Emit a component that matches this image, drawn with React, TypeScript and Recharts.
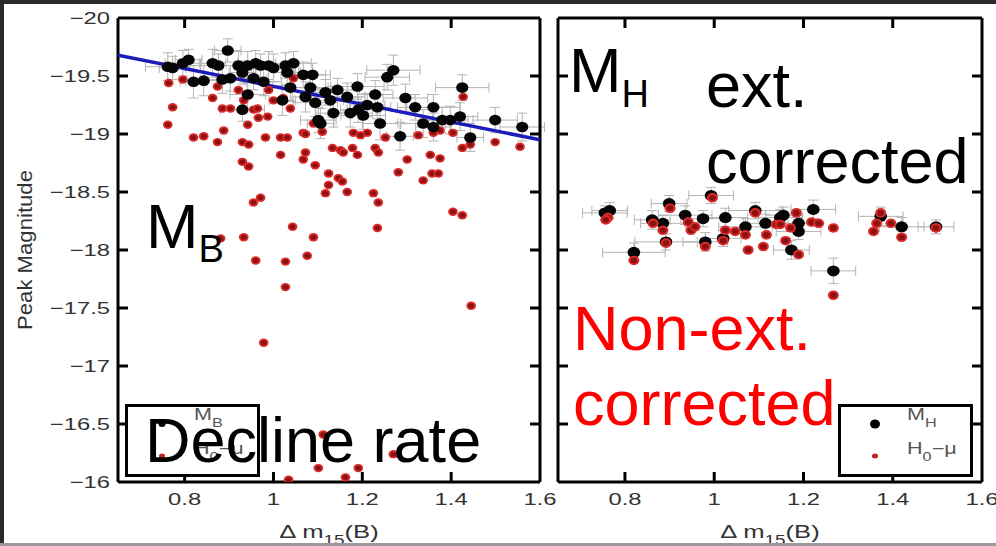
import React from 'react';
import { ScatterChart, Scatter, XAxis, YAxis, ErrorBar, Legend } from 'recharts';

const FONT = '"Liberation Sans", Arial, Helvetica, sans-serif';

// x ticks (decline rate) and y ticks (peak magnitude)
const xTicks = [0.8, 1, 1.2, 1.4, 1.6];
const yTicks = [-20, -19.5, -19, -18.5, -18, -17.5, -17, -16.5, -16];

// left panel, M_B : [dm15, mag, xerr, yerr]
const leftMB: number[][] = [
  [0.762, -19.58, 0.05, 0.12], [0.773, -19.57, 0.03, 0.1], [0.796, -19.61, 0.04, 0.11],
  [0.809, -19.64, 0.03, 0.09], [0.82, -19.45, 0.03, 0.14], [0.843, -19.46, 0.04, 0.13],
  [0.863, -19.61, 0.03, 0.12], [0.876, -19.59, 0.04, 0.1], [0.897, -19.72, 0.03, 0.1],
  [0.885, -19.47, 0.05, 0.12], [0.903, -19.48, 0.03, 0.11], [0.921, -19.59, 0.04, 0.12],
  [0.93, -19.53, 0.03, 0.1], [0.942, -19.59, 0.03, 0.12], [0.96, -19.61, 0.04, 0.11],
  [0.971, -19.59, 0.03, 0.1], [0.989, -19.59, 0.04, 0.12], [1.0, -19.57, 0.05, 0.12],
  [0.942, -19.34, 0.04, 0.12], [0.93, -19.21, 0.05, 0.1], [0.955, -19.48, 0.03, 0.1],
  [0.978, -19.45, 0.04, 0.12], [1.027, -19.59, 0.03, 0.11], [1.045, -19.61, 0.04, 0.1],
  [1.031, -19.53, 0.03, 0.1], [1.038, -19.4, 0.04, 0.12], [1.02, -19.29, 0.03, 0.13],
  [1.067, -19.51, 0.05, 0.11], [1.088, -19.51, 0.04, 0.1], [1.083, -19.4, 0.04, 0.12],
  [1.072, -19.32, 0.03, 0.13], [1.094, -19.27, 0.05, 0.12], [1.117, -19.36, 0.04, 0.11],
  [1.144, -19.38, 0.05, 0.1], [1.128, -19.29, 0.03, 0.12], [1.166, -19.32, 0.04, 0.12],
  [1.189, -19.41, 0.06, 0.11], [1.135, -19.18, 0.04, 0.12], [1.106, -19.09, 0.03, 0.13],
  [1.173, -19.18, 0.05, 0.12], [1.191, -19.21, 0.04, 0.11], [1.202, -19.16, 0.05, 0.12],
  [1.229, -19.34, 0.04, 0.12], [1.234, -19.23, 0.03, 0.1], [1.256, -19.49, 0.05, 0.11],
  [1.27, -19.55, 0.06, 0.13], [1.24, -19.09, 0.04, 0.14], [1.285, -18.98, 0.03, 0.12],
  [1.297, -19.31, 0.05, 0.12], [1.319, -19.23, 0.04, 0.11], [1.337, -19.09, 0.05, 0.12],
  [1.36, -19.23, 0.06, 0.11], [1.36, -19.06, 0.04, 0.12], [1.38, -19.12, 0.05, 0.11],
  [1.398, -19.12, 0.04, 0.12], [1.425, -19.4, 0.06, 0.11], [1.42, -19.15, 0.04, 0.12],
  [1.443, -18.97, 0.03, 0.12], [1.499, -19.12, 0.05, 0.11], [1.56, -19.06, 0.05, 0.12],
  [1.101, -19.12, 0.04, 0.11], [1.211, -19.25, 0.04, 0.1],
];

// left panel, H0 - mu : [dm15, mag]
const leftH0: number[][] = [
  [0.764, -19.44], [0.773, -19.23], [0.762, -19.08], [0.796, -19.47], [0.82, -18.97],
  [0.843, -18.98], [0.874, -18.93], [0.863, -19.31], [0.885, -19.22], [0.903, -19.22],
  [0.888, -19.03], [0.874, -19.41], [0.921, -19.38], [0.933, -19.29], [0.955, -19.21],
  [0.942, -19.08], [0.966, -19.14], [0.987, -19.15], [0.93, -18.93], [0.944, -18.91],
  [0.982, -18.97], [1.016, -18.97], [1.031, -18.97], [1.016, -18.82], [0.93, -18.76],
  [0.944, -18.72], [0.964, -19.22], [1.0, -19.29], [0.989, -19.38], [1.022, -19.31],
  [1.045, -19.48], [1.038, -19.22], [1.067, -19.01], [1.072, -18.84], [1.067, -18.78],
  [1.094, -18.73], [1.09, -19.09], [1.11, -19.02], [1.124, -18.66], [1.124, -18.56],
  [1.117, -18.49], [1.146, -18.62], [1.155, -18.59], [1.166, -18.5], [1.133, -18.88],
  [1.151, -18.86], [1.157, -18.84], [1.178, -18.88], [1.189, -18.82], [1.18, -19.01],
  [1.196, -18.99], [1.211, -19.01], [1.229, -18.88], [1.236, -18.84], [1.225, -18.49],
  [1.236, -18.41], [1.234, -18.19], [1.252, -18.97], [1.281, -18.67], [1.301, -18.78],
  [1.326, -18.99], [1.337, -18.6], [1.357, -18.66], [1.371, -18.66], [1.353, -18.82],
  [1.375, -18.79], [1.404, -18.33], [1.425, -18.3], [1.425, -18.88], [1.443, -18.91],
  [1.427, -19.32], [1.499, -18.93], [1.36, -19.01], [1.375, -19.03], [1.404, -19.01],
  [1.555, -18.89], [1.072, -19.0], [0.955, -18.41], [0.971, -18.45], [1.043, -18.2],
  [1.027, -17.9], [0.933, -18.11], [0.881, -18.1], [0.96, -17.91], [1.076, -17.95],
  [1.09, -18.11], [1.027, -17.68], [0.978, -17.2], [1.445, -17.52], [1.112, -16.41],
  [1.101, -16.12], [1.162, -16.04], [1.191, -16.12], [1.27, -16.24], [1.034, -16.02],
];

// linear fit through M_B
const fitLine = [
  { x: 0.65, y: -19.68 },
  { x: 1.6, y: -18.95 },
];

// right panel, M_H : [dm15, mag, xerr, yerr]
const rightMH: number[][] = [
  [0.766, -18.34, 0.04, 0.07], [0.755, -18.32, 0.05, 0.06], [0.899, -18.4, 0.04, 0.07],
  [0.993, -18.47, 0.05, 0.07], [0.861, -18.26, 0.04, 0.08], [0.885, -18.23, 0.05, 0.07],
  [0.935, -18.3, 0.06, 0.08], [0.975, -18.27, 0.05, 0.07], [1.025, -18.28, 0.05, 0.08],
  [1.092, -18.34, 0.06, 0.07], [1.115, -18.23, 0.05, 0.08], [1.07, -18.2, 0.06, 0.07],
  [0.892, -18.07, 0.07, 0.07], [0.98, -18.07, 0.05, 0.08], [1.02, -18.1, 0.04, 0.07],
  [0.82, -17.98, 0.07, 0.08], [1.148, -18.28, 0.05, 0.07], [1.155, -18.3, 0.04, 0.07],
  [1.222, -18.35, 0.05, 0.08], [1.189, -18.23, 0.04, 0.07], [1.189, -18.16, 0.05, 0.07],
  [1.173, -18.0, 0.04, 0.08], [1.42, -18.2, 0.05, 0.08], [1.267, -17.82, 0.05, 0.11],
  [1.373, -18.29, 0.05, 0.08], [1.497, -18.2, 0.04, 0.06],
];

// right panel, H0 - mu : [dm15, mag]
const rightH0: number[][] = [
  [0.762, -18.28], [0.757, -18.26], [0.901, -18.36], [0.996, -18.45], [0.863, -18.23],
  [0.885, -18.17], [0.942, -18.24], [0.948, -18.17], [0.957, -18.2], [1.025, -18.17],
  [1.047, -18.16], [1.07, -18.13], [1.092, -18.32], [1.117, -18.13], [1.076, -18.0],
  [1.11, -18.03], [0.98, -18.03], [1.02, -18.08], [0.892, -18.06], [0.82, -17.91],
  [1.139, -18.22], [1.184, -18.32], [1.218, -18.24], [1.234, -18.23], [1.267, -18.19],
  [1.171, -18.19], [1.16, -18.08], [1.189, -17.96], [1.267, -17.61], [1.373, -18.32],
  [1.364, -18.23], [1.396, -18.23], [1.357, -18.16], [1.42, -18.11], [1.497, -18.19],
  [1.148, -18.22],
];

const withErr = (rows: number[][]) => rows.map(([x, y, ex, ey]) => ({ x, y, ex, ey }));
const plain = (rows: number[][]) => rows.map(([x, y]) => ({ x, y }));

const minus = (v: number) => String(v).replace('-', '\u2212');

const blackDot = (r: number) => (p: any) => (
  <ellipse cx={p.cx} cy={p.cy} rx={r * 1.15} ry={r} fill="#050505" />
);

const redDot = (r: number) => (p: any) => (
  <g>
    <ellipse cx={p.cx} cy={p.cy} rx={r * 1.15} ry={r} fill="#dc2a2a" />
    <ellipse cx={p.cx} cy={p.cy} rx={r * 0.7} ry={r * 0.6} fill="#8c1212" />
  </g>
);

// empty tick label so that only the inward tick line is drawn
const noTick = () => <g />;

function XTick(props: any) {
  const { x, y, payload } = props;
  return (
    <text transform={`translate(${x},${y}) scale(1.4,1)`} textAnchor="middle" dy="0.71em"
      fontSize={17} fill="#333" fontFamily={FONT}>
      {payload.value}
    </text>
  );
}

function YTick(props: any) {
  const { x, y, payload } = props;
  return (
    <text transform={`translate(${x},${y}) scale(1.4,1)`} textAnchor="end" dy="0.355em"
      fontSize={17} fill="#333" fontFamily={FONT}>
      {minus(payload.value)}
    </text>
  );
}

function XTitle(props: any) {
  const vb = props.viewBox || { x: 0, y: 0, width: 0 };
  return (
    <text transform={`translate(${vb.x + vb.width / 2},${vb.y + 56}) scale(1.35,1)`} textAnchor="middle"
      fontSize={19} fill="#333" fontFamily={FONT}>
      {'\u0394 m'}
      <tspan dy={7} fontSize={14}>15</tspan>
      <tspan dy={-7}>(B)</tspan>
    </text>
  );
}

function YTitle(props: any) {
  const vb = props.viewBox || { y: 0, height: 0 };
  return (
    <text transform={`translate(32,${vb.y + vb.height / 2}) rotate(-90)`} textAnchor="middle"
      fontSize={21} fill="#333" fontFamily={FONT} textLength={160} lengthAdjust="spacingAndGlyphs">
      Peak Magnitude
    </text>
  );
}

function LegendBox({ sub, big }: { sub: string; big: boolean }) {
  return (
    <svg width={135} height={73} style={{ display: 'block' }}>
      <rect x={1.5} y={1.5} width={132} height={70} fill="#fff" stroke="#000" strokeWidth={3} />
      <ellipse cx={37} cy={20} rx={big ? 5 : 3.5} ry={big ? 4.5 : 3} fill="#000" />
      <text transform="translate(69,16) scale(1.35,1)" fontSize={16} fill="#555" fontFamily={FONT}>
        M<tspan dy={7} fontSize={12}>{sub}</tspan>
      </text>
      <ellipse cx={37} cy={52} rx={3} ry={2.5} fill="#c42020" />
      <text transform="translate(69,50) scale(1.35,1)" fontSize={16} fill="#555" fontFamily={FONT}>
        H<tspan dy={7} fontSize={12}>0</tspan>
        <tspan dy={-7}>{'\u2212\u03bc'}</tspan>
      </text>
    </svg>
  );
}

const boxLine = { stroke: '#000', strokeWidth: 3 };

function Panel({ left }: { left: boolean }) {
  const W = left ? 575 : 448;
  const margin = left ? { top: 18, right: 35, bottom: 0, left: 0 } : { top: 18, right: 14, bottom: 0, left: 10 };
  const black = withErr(left ? leftMB : rightMH);
  const red = plain(left ? leftH0 : rightH0);
  const rb = left ? 5.3 : 5.5;
  const rr = left ? 4.2 : 4.8;
  return (
    <ScatterChart width={W} height={546} margin={margin}>
      <XAxis xAxisId="xin" type="number" dataKey="x" domain={[0.65, 1.6]} ticks={xTicks.slice(0, 4)}
        allowDataOverflow mirror height={1} axisLine={false} tick={noTick} tickLine={boxLine} tickSize={10} />
      <XAxis xAxisId="x" type="number" dataKey="x" domain={[0.65, 1.6]} ticks={xTicks} allowDataOverflow
        height={64} axisLine={boxLine} tickLine={false} tickSize={5} tickMargin={6} tick={<XTick />}
        label={{ content: (p: any) => <XTitle {...p} /> }} />
      <XAxis xAxisId="xtop" orientation="top" type="number" dataKey="x" domain={[0.65, 1.6]}
        ticks={xTicks.slice(0, 4)} allowDataOverflow mirror height={1} axisLine={boxLine} tick={noTick}
        tickLine={boxLine} tickSize={10} />
      {left && (
        <YAxis yAxisId="yin" type="number" dataKey="y" domain={[-20, -16]} reversed ticks={yTicks.slice(1, 8)}
          allowDataOverflow mirror width={1} axisLine={false} tick={noTick} tickLine={boxLine} tickSize={10} />
      )}
      {left ? (
        <YAxis yAxisId="y" type="number" dataKey="y" domain={[-20, -16]} reversed ticks={yTicks} allowDataOverflow
          width={118} axisLine={boxLine} tickLine={false} tickSize={4} tickMargin={4} tick={<YTick />}
          label={{ content: (p: any) => <YTitle {...p} /> }} />
      ) : (
        <YAxis yAxisId="y" type="number" dataKey="y" domain={[-20, -16]} reversed ticks={yTicks.slice(1, 8)}
          allowDataOverflow mirror width={1} axisLine={boxLine} tick={noTick} tickLine={boxLine} tickSize={10} />
      )}
      <YAxis yAxisId="yr" orientation="right" type="number" dataKey="y" domain={[-20, -16]} reversed
        ticks={yTicks.slice(1, 8)} allowDataOverflow mirror width={1} axisLine={boxLine} tick={noTick}
        tickLine={boxLine} tickSize={10} />

      {left && (
        <Scatter data={fitLine} xAxisId="x" yAxisId="y" line={{ stroke: '#1c1cb8', strokeWidth: 3.5 }}
          shape={() => <g />} legendType="none" isAnimationActive={false} />
      )}
      {left && (
        <Scatter data={red} xAxisId="x" yAxisId="y" shape={redDot(rr)} isAnimationActive={false} />
      )}
      <Scatter data={black} xAxisId="x" yAxisId="y" shape={blackDot(rb)} isAnimationActive={false}>
        <ErrorBar dataKey="ex" direction="x" width={5} stroke="#b4b4b4" strokeWidth={1} isAnimationActive={false} />
        <ErrorBar dataKey="ey" direction="y" width={5} stroke="#b4b4b4" strokeWidth={1} isAnimationActive={false} />
      </Scatter>
      {!left && (
        <Scatter data={red} xAxisId="x" yAxisId="y" shape={redDot(rr)} isAnimationActive={false} />
      )}
      <Legend layout="vertical" align="center" verticalAlign="middle"
        wrapperStyle={{ left: left ? 125 : 290, top: 404, width: 135, height: 73 }}
        content={() => <LegendBox sub={left ? 'B' : 'H'} big={!left} />} />
    </ScatterChart>
  );
}

export default function App() {
  const big = { fontFamily: FONT, fontSize: 63 };
  return (
    <div style={{ position: 'absolute', left: 0, top: 0, width: 996, height: 546, background: '#fff', overflow: 'hidden' }}>
      <div style={{ position: 'absolute', left: 0, top: 0 }}>
        <Panel left />
      </div>
      <div style={{ position: 'absolute', left: 548, top: 0 }}>
        <Panel left={false} />
      </div>
      <svg width={996} height={546} style={{ position: 'absolute', left: 0, top: 0, pointerEvents: 'none' }}>
        <text x={146} y={248} {...big} fill="#000">
          M<tspan dy={14} fontSize={38}>B</tspan>
        </text>
        <text x={145} y={462} {...big} fill="#000">Decline rate</text>
        <text x={569} y={92} {...big} fill="#000">
          M<tspan dy={15} fontSize={38}>H</tspan>
        </text>
        <text x={706} y={107} {...big} fill="#000">ext.</text>
        <text x={706} y={183} {...big} fill="#000">corrected</text>
        <text x={573} y={350} {...big} fill="#ff0000">Non-ext.</text>
        <text x={573} y={425} {...big} fill="#ff0000">corrected</text>
        <rect x={0} y={0} width={996} height={4} fill="#2a2a2a" />
        <rect x={0} y={0} width={4} height={546} fill="#2a2a2a" />
        <rect x={0} y={543} width={996} height={3} fill="#9a9a9a" />
      </svg>
    </div>
  );
}
